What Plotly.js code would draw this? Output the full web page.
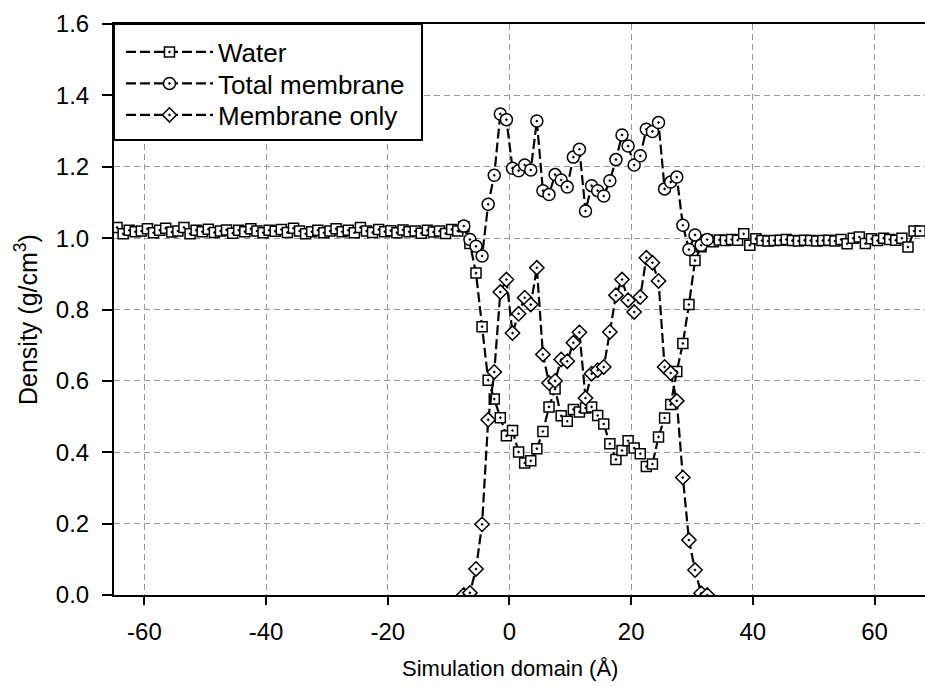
<!DOCTYPE html>
<html>
<head>
<meta charset="utf-8">
<script src="https://cdn.plot.ly/plotly-3.0.1.min.js"></script>
<style>html,body{margin:0;padding:0;background:#fff;}#chart{width:925px;height:686px;}</style>
</head>
<body>
<div id="chart"></div>
<script>
// ---- data ----
const waterX = [
-64.5,-63.5,-62.5,-61.5,-60.5,-59.5,-58.5,-57.5,-56.5,-55.5,-54.5,-53.5,-52.5,-51.5,-50.5,-49.5,-48.5,-47.5,-46.5,-45.5,
-44.5,-43.5,-42.5,-41.5,-40.5,-39.5,-38.5,-37.5,-36.5,-35.5,-34.5,-33.5,-32.5,-31.5,-30.5,-29.5,-28.5,-27.5,-26.5,-25.5,
-24.5,-23.5,-22.5,-21.5,-20.5,-19.5,-18.5,-17.5,-16.5,-15.5,-14.5,-13.5,-12.5,-11.5,-10.5,-9.5,-8.5,
-7.5,-6.5,-5.5,-4.5,-3.5,-2.5,-1.5,-0.5,0.5,1.5,2.5,3.5,4.5,5.5,6.5,7.5,8.5,9.5,10.5,11.5,12.5,13.5,14.5,15.5,16.5,
17.5,18.5,19.5,20.5,21.5,22.5,23.5,24.5,25.5,26.5,27.5,28.5,29.5,30.5,31.5,32.5,
33.5,34.5,35.5,36.5,37.5,38.5,39.5,40.5,41.5,42.5,43.5,44.5,45.5,46.5,47.5,48.5,49.5,50.5,51.5,52.5,
53.5,54.5,55.5,56.5,57.5,58.5,59.5,60.5,61.5,62.5,63.5,64.5,65.5,66.5,67.5];
const waterY = [
1.030,1.012,1.022,1.018,1.020,1.026,1.015,1.022,1.028,1.017,1.020,1.030,1.012,1.022,1.018,1.025,1.016,1.020,1.023,1.014,
1.022,1.018,1.026,1.020,1.015,1.022,1.019,1.024,1.016,1.028,1.020,1.012,1.018,1.022,1.015,1.020,1.026,1.018,1.022,1.015,
1.030,1.020,1.016,1.024,1.018,1.021,1.015,1.023,1.018,1.020,1.014,1.022,1.017,1.020,1.013,1.024,1.020,
1.032,0.985,0.902,0.752,0.602,0.549,0.497,0.446,0.461,0.401,0.370,0.376,0.410,0.458,0.527,0.577,0.502,0.487,0.520,0.513,
0.524,0.527,0.503,0.479,0.424,0.380,0.405,0.432,0.412,0.396,0.360,0.367,0.443,0.496,0.534,0.626,0.705,0.814,0.937,0.976,0.995,
0.990,0.995,0.993,0.996,0.994,1.012,0.980,0.998,0.993,0.992,0.993,0.994,0.996,0.993,0.992,0.994,0.993,0.992,0.993,0.994,
0.992,0.996,0.984,1.000,1.003,0.985,0.998,0.993,1.000,0.996,0.994,1.000,0.975,1.020,1.020];

const membX = [-7.5,-6.5,-5.5,-4.5,-3.5,-2.5,-1.5,-0.5,0.5,1.5,2.5,3.5,4.5,5.5,6.5,7.5,8.5,9.5,10.5,11.5,12.5,
13.5,14.5,15.5,16.5,17.5,18.5,19.5,20.5,21.5,22.5,23.5,24.5,25.5,26.5,27.5,28.5,29.5,30.5,31.5,32.5];
const totalY = [1.034,0.996,0.977,0.950,1.095,1.176,1.348,1.332,1.196,1.189,1.205,1.191,1.328,1.133,1.122,1.178,1.163,
1.143,1.227,1.249,1.076,1.147,1.133,1.118,1.161,1.220,1.289,1.258,1.205,1.231,1.305,1.299,1.324,1.138,1.157,1.171,
1.036,0.968,1.009,0.980,0.996];
const membOnlyY = [0.000,0.006,0.073,0.198,0.491,0.625,0.849,0.884,0.734,0.788,0.833,0.814,0.917,0.674,0.594,0.600,0.660,
0.655,0.707,0.736,0.552,0.620,0.630,0.639,0.737,0.840,0.884,0.826,0.793,0.835,0.945,0.931,0.880,0.639,0.622,0.544,
0.329,0.154,0.070,0.005,0.000];

const seriesNames = ['Water', 'Total membrane', 'Membrane only'];
const xTicks = [-60,-40,-20,0,20,40,60];
const yTicks = [0.0,0.2,0.4,0.6,0.8,1.0,1.2,1.4,1.6];
const xTitle = 'Simulation domain (Å)';
const yTitle = 'Density (g/cm<sup>3</sup>)';

// ---- chart ----
const FONT = 'Liberation Sans, Arial, sans-serif';
const lineStyle = {color:'#000', width:2.2, dash:'10px,4px'};
function mk(sym, size){ return {symbol:sym, size:size, color:'#fff', line:{color:'#000', width:1.5}}; }

const traces = [
  {x:waterX, y:waterY, name:seriesNames[0], legend:'legend', mode:'lines+markers', line:lineStyle, marker:mk('square-dot',10)},
  {x:membX, y:totalY, name:seriesNames[1], legend:'legend2', mode:'lines+markers', line:lineStyle, marker:mk('circle-dot',12)},
  {x:membX, y:membOnlyY, name:seriesNames[2], legend:'legend3', mode:'lines+markers', line:lineStyle, marker:mk('diamond-dot',11)}
];

// legend rows centred at 52, 83.5, 115 px (plot top = 24 px, plot height = 571 px)
function leg(yc){
  return {x:0.0086, y:1-(yc-24)/571, xanchor:'left', yanchor:'middle', bgcolor:'rgba(0,0,0,0)', borderwidth:0,
          font:{family:FONT, size:26, color:'#000'}, itemwidth:87};
}

const layout = {
  width:925, height:686,
  margin:{l:114, r:0, t:24, b:91},
  paper_bgcolor:'#fff', plot_bgcolor:'#fff',
  font:{family:FONT, size:24, color:'#000'},
  showlegend:true,
  legend:leg(52), legend2:leg(83.5), legend3:leg(115),
  shapes:[{type:'rect', xref:'paper', yref:'paper', x0:0, x1:0.3798, y0:0.797, y1:1, layer:'above',
           fillcolor:'#fff', line:{color:'#000', width:2}}],
  annotations:[
    {text:xTitle, xref:'paper', yref:'paper', x:(510-114)/811, y:1-(668-24)/571, xanchor:'center', yanchor:'middle',
     showarrow:false, font:{family:FONT, size:22, color:'#000'}},
    {text:yTitle, xref:'paper', yref:'paper', x:(26-114)/811, y:1-(320-24)/571, xanchor:'center', yanchor:'middle',
     textangle:-90, showarrow:false, font:{family:FONT, size:25, color:'#000'}}
  ],
  xaxis:{range:[-65,68.3], tickvals:xTicks, ticktext:xTicks.map(String), ticks:'outside', ticklen:8, tickwidth:2,
         tickcolor:'#000', showline:true, linecolor:'#000', linewidth:2, mirror:true,
         showgrid:true, gridcolor:'#999', gridwidth:1, griddash:'6px,4px', zeroline:false,
         ticklabelstandoff:6, tickfont:{family:FONT, size:24}},
  yaxis:{range:[0,1.6], tickvals:yTicks, ticktext:yTicks.map(v=>v.toFixed(1)), ticks:'outside', ticklen:10, tickwidth:2,
         tickcolor:'#000', showline:true, linecolor:'#000', linewidth:2, mirror:false,
         showgrid:true, gridcolor:'#999', gridwidth:1, griddash:'6px,4px', zeroline:false,
         ticklabelstandoff:8, tickfont:{family:FONT, size:24}}
};

Plotly.newPlot('chart', traces, layout, {displayModeBar:false, staticPlot:true});
</script>
</body>
</html>
